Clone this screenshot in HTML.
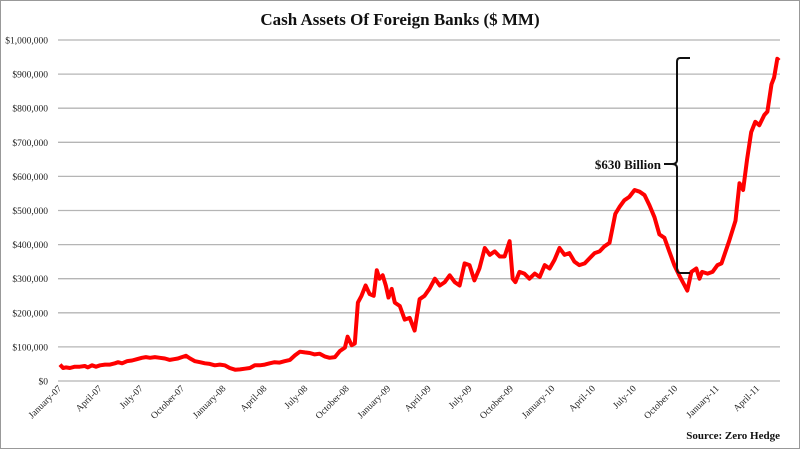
<!DOCTYPE html>
<html><head><meta charset="utf-8"><style>
html,body{margin:0;padding:0;background:#fff;}
svg{display:block;font-family:"Liberation Serif",serif;}
</style></head><body>
<svg width="800" height="449" viewBox="0 0 800 449">
<rect x="0.5" y="0.5" width="799" height="448" fill="#fff" stroke="#999"/>
<text x="400" y="25" text-anchor="middle" font-size="17" font-weight="bold" fill="#111">Cash Assets Of  Foreign Banks ($ MM)</text>
<g id="grid"></g><g id="ylab"></g><g id="xlab"></g>
<path id="line" fill="none" stroke="#ff0000" stroke-width="4" stroke-linejoin="round"/>
<g>
<path d="M690,58 L680,58 Q677,58 677,62 L677,160 Q677,164 672,164 Q677,164 677,168 L677,268 Q677,273 680,273 L690,273" fill="none" stroke="#111" stroke-width="2"/>
<line x1="664" y1="164" x2="673" y2="164" stroke="#111" stroke-width="2"/>
</g>
<text x="661" y="169" text-anchor="end" font-size="13" font-weight="bold" fill="#111">$630 Billion</text>
<text x="780" y="439" text-anchor="end" font-size="11" font-weight="bold" fill="#111">Source: Zero Hedge</text>
</svg>
<script>
const days=[0,7,13,22,33,44,55,62,71,80,89,100,111,122,129,138,149,160,171,182,191,200,211,222,233,244,253,262,271,280,289,300,311,322,333,344,355,366,377,389,400,411,422,433,444,455,466,477,488,499,511,522,533,544,555,566,577,588,599,611,622,633,639,648,655,662,670,679,688,697,704,710,717,724,730,737,744,755,766,777,788,799,810,821,833,844,855,866,877,888,899,910,921,932,944,955,966,977,988,999,1006,1012,1021,1032,1043,1055,1066,1077,1088,1099,1110,1121,1132,1143,1154,1166,1177,1188,1199,1210,1221,1228,1234,1243,1254,1265,1277,1288,1299,1310,1321,1332,1343,1354,1365,1376,1388,1394,1403,1414,1421,1427,1439,1450,1461,1470,1479,1487,1501,1510,1518,1527,1536,1545,1554,1565,1572,1581,1587,1594,1598];
const values=[48,38,40,38,42,42,44,40,46,42,46,48,48,52,55,52,58,60,64,68,70,68,70,68,66,62,64,66,70,74,66,58,55,52,50,46,48,46,38,33,34,36,38,46,46,48,52,55,54,58,62,75,86,84,82,78,80,72,68,70,88,98,130,105,110,230,250,280,255,250,325,300,310,280,245,270,230,220,180,185,148,240,250,270,300,280,290,310,290,280,345,340,295,330,390,370,380,365,365,410,300,290,320,315,300,315,305,340,330,355,390,370,375,350,340,345,360,375,380,395,405,450,490,510,530,540,560,555,545,515,480,430,420,380,340,310,280,265,320,330,300,320,315,320,340,345,380,410,470,580,560,650,730,760,750,780,790,870,890,945,940];
const yTicks=[0,100,200,300,400,500,600,700,800,900,1000];
const yTickLabels=["$0","$100,000","$200,000","$300,000","$400,000","$500,000","$600,000","$700,000","$800,000","$900,000","$1,000,000"];
const xTickDays=[0,90,181,273,365,456,547,639,731,821,912,1004,1096,1186,1277,1369,1461,1551];
const xTickLabels=["January-07","April-07","July-07","October-07","January-08","April-08","July-08","October-08","January-09","April-09","July-09","October-09","January-10","April-10","July-10","October-10","January-11","April-11"];
const xS=d=>60+d*0.45;
const yS=v=>381-v*0.341;
const NS="http://www.w3.org/2000/svg";
const grid=document.getElementById('grid'),yl=document.getElementById('ylab'),xl=document.getElementById('xlab');
yTicks.forEach((t,i)=>{
 const l=document.createElementNS(NS,'line');
 l.setAttribute('x1',58);l.setAttribute('x2',780);l.setAttribute('y1',yS(t));l.setAttribute('y2',yS(t));
 l.setAttribute('stroke','#b5b5b5');l.setAttribute('stroke-width','1.3');
 
 
 grid.appendChild(l);
 const tx=document.createElementNS(NS,'text');
 tx.setAttribute('x',48);tx.setAttribute('y',yS(t)+3.5);tx.setAttribute('text-anchor','end');
 tx.setAttribute('font-size','9.5');tx.setAttribute('fill','#222');tx.textContent=yTickLabels[i];
 
 
 yl.appendChild(tx);
});
xTickDays.forEach((d,i)=>{
 const tx=document.createElementNS(NS,'text');
 const x=xS(d)+2,y=389;
 tx.setAttribute('x',x);tx.setAttribute('y',y);tx.setAttribute('text-anchor','end');
 tx.setAttribute('font-size','9.5');tx.setAttribute('fill','#222');
 tx.setAttribute('transform','rotate(-45 '+x+' '+y+')');
 tx.textContent=xTickLabels[i];
 
 
 xl.appendChild(tx);
});
document.getElementById('line').setAttribute('d',days.map((d,i)=>(i?'L':'M')+xS(d).toFixed(1)+','+yS(values[i]).toFixed(1)).join(' '));
</script>
</body></html>
